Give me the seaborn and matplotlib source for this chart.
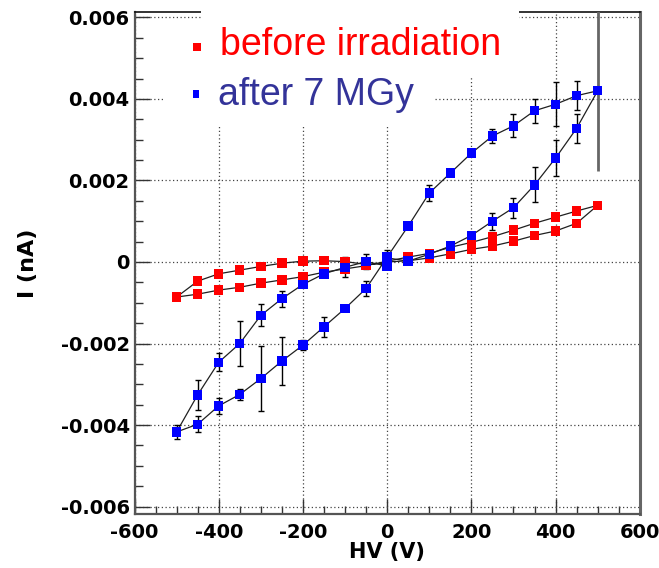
import matplotlib
matplotlib.use("Agg")
import matplotlib.pyplot as plt
import numpy as np
import pandas as pd
import seaborn as sns
from matplotlib.patches import Rectangle

# High-voltage sweep: 0 -> +500 -> 0 -> -500 -> 0 (V)
hv_sweep = [0, 50, 100, 150, 200, 250, 300, 350, 400, 450, 500,
            450, 400, 350, 300, 250, 200, 150, 100, 50, 0,
            -50, -100, -150, -200, -250, -300, -350, -400, -450, -500,
            -450, -400, -350, -300, -250, -200, -150, -100, -50, 0]

# Leakage current (nA) before irradiation
i_before = [0.0, 0.00003, 0.0001, 0.0002, 0.00031, 0.00039, 0.00051, 0.00065, 0.00076, 0.00095, 0.00139,
            0.00125, 0.0011, 0.00095, 0.00078, 0.00062, 0.00048, 0.00036, 0.00021, 0.00012, 0.00002,
            -0.00009, -0.00017, -0.00025, -0.00036, -0.00044, -0.00052, -0.00062, -0.00069, -0.00079, -0.00086,
            -0.00047, -0.00029, -0.0002, -0.00011, -0.00003, 0.00002, 0.00003, 0.00001, -0.00006, -0.00003]

# Leakage current (nA) after 7 MGy
i_after = [0.0001, 0.00002, 0.00019, 0.00039, 0.00065, 0.001, 0.00133, 0.00189, 0.00255, 0.00328, 0.0042,
           0.00408, 0.00387, 0.00371, 0.00334, 0.00309, 0.00267, 0.00218, 0.00169, 0.00088, 0.00012,
           -0.00065, -0.00114, -0.00159, -0.00204, -0.00243, -0.00286, -0.00325, -0.00353, -0.00398, -0.00417,
           -0.00326, -0.00246, -0.002, -0.00131, -0.0009, -0.00055, -0.00029, -0.00013, 0.00001, -0.0001]

err_after = [0.0002, 0, 0, 0, 0, 0.00021, 0.00025, 0.00043, 0.00044, 0.00036, 0.00196,
             0.00035, 0.00054, 0.00029, 0.00028, 0.00018, 0, 0, 0.0002, 0, 0,
             0.00019, 0, 0.00024, 0.00013, 0.0006, 0.00079, 0.00013, 0.0002, 0.00019, 0.00018,
             0.00037, 0.00022, 0.00055, 0.00027, 0.0002, 0, 0.00005, 0.00024, 0.00018, 0]

series_names = ["before irradiation", "after 7 MGy"]
marker_colors = ["#ff0000", "#0000ff"]
text_colors = ["#ff0000", "#333399"]

x_ticks = [-600, -400, -200, 0, 200, 400, 600]
y_ticks = [-0.006, -0.004, -0.002, 0, 0.002, 0.004, 0.006]
y_tick_labels = ["-0.006", "-0.004", "-0.002", "0", "0.002", "0.004", "0.006"]

df = pd.concat([
    pd.DataFrame({"hv": hv_sweep, "current": i_before, "err": 0.0,
                  "series": series_names[0], "step": range(len(hv_sweep))}),
    pd.DataFrame({"hv": hv_sweep, "current": i_after, "err": err_after,
                  "series": series_names[1], "step": range(len(hv_sweep))}),
], ignore_index=True)

sns.set_style("white")
plt.rcParams["axes.unicode_minus"] = False
plt.rcParams["text.color"] = "black"
plt.rcParams["axes.labelcolor"] = "black"

W, H = 659, 568
fig = plt.figure(figsize=(W / 100, H / 100), dpi=100)
ax = fig.add_axes([134.5 / W, 1 - 514.3 / H, (639.8 - 134.5) / W, (514.3 - 11.7) / H])

for name, col in zip(series_names, marker_colors):
    sub = df[df["series"] == name]
    sns.lineplot(data=sub, x="hv", y="current", sort=False, estimator=None,
                 color="#202020", lw=0.9, ax=ax, zorder=3, legend=False)
    e = sub[(sub["err"] > 0) & (sub["err"] < 0.0015)]
    if len(e):
        ax.errorbar(e["hv"], e["current"], yerr=e["err"], fmt="none",
                    ecolor="black", elinewidth=1.0, capsize=2.2, capthick=1.0, zorder=3.5)
    big = sub[sub["err"] >= 0.0015]
    if len(big):
        ax.errorbar(big["hv"], big["current"], yerr=big["err"], fmt="none",
                    ecolor="#666666", elinewidth=2.0, capsize=0, zorder=3.5)
    sns.scatterplot(data=sub, x="hv", y="current", marker="s", color=col,
                    s=46, edgecolor="none", ax=ax, zorder=4, legend=False)

ax.set_xlim(-600, 600)
ax.set_ylim(-0.00619, 0.00614)
ax.set_xticks(x_ticks)
ax.set_yticks(y_ticks)
ax.set_yticklabels(y_tick_labels)
ax.xaxis.set_minor_locator(matplotlib.ticker.MultipleLocator(50))
ax.yaxis.set_minor_locator(matplotlib.ticker.MultipleLocator(0.0005))
ax.tick_params(which="major", direction="in", length=11, width=1.0, color="#333333",
               labelsize=14, labelcolor="black")
ax.tick_params(which="minor", direction="in", length=6, width=1.0, color="#333333")
ax.tick_params(axis="x", which="both", bottom=True, top=False, pad=6)
ax.tick_params(axis="y", which="both", left=True, right=False, pad=3.5)
for lab in ax.get_xticklabels() + ax.get_yticklabels():
    lab.set_fontweight("bold")
    lab.set_family("DejaVu Sans")

ax.grid(True, which="major", linestyle=(0, (1, 2)), color="#444444", lw=0.9)
ax.set_axisbelow(True)

ax.set_xlabel("HV (V)", fontsize=15, fontweight="bold", labelpad=0, color="black")
ax.set_ylabel("I (nA)", fontsize=16, fontweight="bold", labelpad=16, color="black")

for side, c, lw in [("left", "#555555", 1.6), ("bottom", "#555555", 1.6),
                    ("right", "#666666", 2.2), ("top", "#111111", 1.2)]:
    ax.spines[side].set_color(c)
    ax.spines[side].set_linewidth(lw)
    ax.spines[side].set_visible(True)


def fig_rect(x0, y0, x1, y1, **kw):
    return Rectangle((x0 / W, 1 - y1 / H), (x1 - x0) / W, (y1 - y0) / H,
                     transform=fig.transFigure, **kw)


# Legend panel (two white text boxes laid over the frame)
fig.add_artist(fig_rect(201, 0, 519, 76, facecolor="white", edgecolor="none", zorder=5))
fig.add_artist(fig_rect(163, 70, 433, 125, facecolor="white", edgecolor="none", zorder=5))
fig.add_artist(fig_rect(193, 43, 201, 51, facecolor=marker_colors[0], edgecolor="none", zorder=6))
fig.add_artist(fig_rect(193, 90, 199, 98, facecolor=marker_colors[1], edgecolor="none", zorder=6))
fig.text(220 / W, 1 - 55 / H, series_names[0], color=text_colors[0], fontsize=27,
         family="Liberation Sans", va="baseline", ha="left", zorder=7)
fig.text(218 / W, 1 - 105 / H, series_names[1], color=text_colors[1], fontsize=27,
         family="Liberation Sans", va="baseline", ha="left", zorder=7)

fig.savefig("out.png", dpi=100)
